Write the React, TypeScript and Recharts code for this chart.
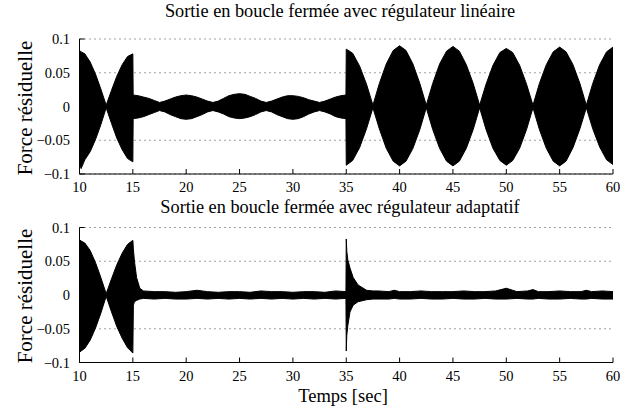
import React from "react";
import { ComposedChart, Area, XAxis, YAxis, CartesianGrid } from "recharts";

// ---------- data (envelopes) ----------
const xTicks = [10, 15, 20, 25, 30, 35, 40, 45, 50, 55, 60];
const yTicks = [-0.1, -0.05, 0, 0.05, 0.1];

const titleTop = "Sortie en boucle fermée avec régulateur linéaire";
const titleBottom = "Sortie en boucle fermée avec régulateur adaptatif";
const yLabel = "Force résiduelle";
const xLabel = "Temps [sec]";

// linear regulator
const linT = [
  10, 10.15, 10.5, 11, 11.5, 12, 12.5, 13, 13.5, 14, 14.5, 15,
  15.03, 15.5, 16, 16.5, 17, 17.5, 18, 18.5, 19, 19.5, 20, 20.5, 21, 21.5, 22, 22.5,
  23, 23.5, 24, 24.5, 25, 25.5, 26, 26.5, 27, 27.5, 28, 28.5, 29, 29.5, 30, 30.5,
  31, 31.5, 32, 32.5, 33, 33.5, 34, 34.5, 34.97,
  35, 35.6, 36.25, 36.9, 37.5, 38.1, 38.75, 39.4, 40, 40.6, 41.25, 41.9, 42.5,
  43.1, 43.75, 44.4, 45, 45.6, 46.25, 46.9, 47.5, 48.1, 48.75, 49.4, 50, 50.6,
  51.25, 51.9, 52.5, 53.1, 53.75, 54.4, 55, 55.6, 56.25, 56.9, 57.5, 58.1, 58.75,
  59.4, 60,
];
const linUp = [
  0.083, 0.081, 0.078, 0.066, 0.048, 0.026, 0.002, 0.024, 0.045, 0.062, 0.074, 0.078,
  0.017, 0.016, 0.014, 0.012, 0.009, 0.006, 0.008, 0.011, 0.014, 0.016, 0.017, 0.016, 0.014, 0.011, 0.008, 0.006,
  0.008, 0.012, 0.016, 0.018, 0.019, 0.018, 0.015, 0.012, 0.008, 0.006, 0.008, 0.011, 0.014, 0.016, 0.016, 0.015,
  0.013, 0.010, 0.008, 0.006, 0.008, 0.011, 0.014, 0.016, 0.017,
  0.085, 0.079, 0.060, 0.033, 0.002, 0.034, 0.063, 0.083, 0.090, 0.083, 0.063, 0.034, 0.002,
  0.034, 0.063, 0.082, 0.089, 0.082, 0.062, 0.034, 0.002, 0.033, 0.061, 0.080, 0.086, 0.080,
  0.061, 0.033, 0.002, 0.034, 0.062, 0.081, 0.088, 0.081, 0.062, 0.034, 0.002, 0.034, 0.062,
  0.081, 0.088,
];
const linLo = [
  -0.085, -0.092, -0.079, -0.067, -0.049, -0.027, -0.002, -0.025, -0.047, -0.064, -0.077, -0.082,
  -0.018, -0.017, -0.015, -0.012, -0.009, -0.006, -0.008, -0.012, -0.015, -0.018, -0.019, -0.018, -0.015, -0.012, -0.008, -0.006,
  -0.008, -0.011, -0.015, -0.017, -0.018, -0.017, -0.015, -0.012, -0.008, -0.006, -0.008, -0.012, -0.015, -0.018, -0.019, -0.018,
  -0.015, -0.011, -0.008, -0.006, -0.008, -0.011, -0.015, -0.017, -0.018,
  -0.087, -0.080, -0.061, -0.033, -0.002, -0.033, -0.062, -0.081, -0.088, -0.081, -0.062, -0.034, -0.002,
  -0.034, -0.062, -0.081, -0.088, -0.081, -0.062, -0.034, -0.002, -0.034, -0.062, -0.080, -0.087, -0.080,
  -0.062, -0.034, -0.002, -0.034, -0.062, -0.081, -0.088, -0.081, -0.061, -0.033, -0.002, -0.033, -0.060,
  -0.079, -0.086,
];

// adaptive regulator
const adaT = [
  10, 10.15, 10.5, 11, 11.5, 12, 12.5, 13, 13.5, 14, 14.5, 15,
  15.05, 15.15, 15.35, 15.65, 16, 17, 18, 19, 20, 21, 22, 23, 24, 25, 26, 27, 28,
  29, 30, 31, 32, 33, 34, 34.97,
  35, 35.05, 35.15, 35.35, 35.65, 36.1, 36.9, 37.5, 38, 39, 39.5, 40, 41, 42, 43,
  44, 45, 46, 47, 48, 49, 50, 51, 52, 52.5, 53, 54, 55, 56, 57, 57.5, 58, 59, 60,
];
const adaUp = [
  0.082, 0.080, 0.077, 0.066, 0.048, 0.026, 0.002, 0.024, 0.045, 0.062, 0.075, 0.081,
  0.068, 0.050, 0.026, 0.010, 0.006, 0.005, 0.005, 0.004, 0.005, 0.007, 0.005, 0.004, 0.005, 0.005, 0.004, 0.006, 0.005,
  0.005, 0.004, 0.005, 0.005, 0.004, 0.006, 0.005,
  0.083, 0.065, 0.052, 0.040, 0.026, 0.015, 0.007, 0.006, 0.006, 0.005, 0.007, 0.005, 0.005, 0.006, 0.005,
  0.005, 0.005, 0.006, 0.005, 0.005, 0.006, 0.010, 0.005, 0.006, 0.008, 0.005, 0.005, 0.006, 0.005, 0.005, 0.007, 0.005, 0.006, 0.005,
];
const adaLo = [
  -0.085, -0.083, -0.079, -0.067, -0.049, -0.027, -0.002, -0.025, -0.047, -0.064, -0.078, -0.086,
  -0.015, -0.010, -0.008, -0.006, -0.005, -0.006, -0.005, -0.006, -0.006, -0.005, -0.006, -0.005, -0.006, -0.005, -0.006, -0.005, -0.006,
  -0.005, -0.006, -0.005, -0.006, -0.005, -0.006, -0.005,
  -0.083, -0.060, -0.045, -0.025, -0.015, -0.010, -0.007, -0.006, -0.006, -0.006, -0.005, -0.006, -0.006, -0.005, -0.006,
  -0.006, -0.005, -0.006, -0.006, -0.005, -0.006, -0.006, -0.005, -0.006, -0.006, -0.005, -0.006, -0.006, -0.005, -0.006, -0.006, -0.005, -0.006, -0.006,
];

const linData = linT.map((t, i) => ({ t, r: [linLo[i], linUp[i]] }));
const adaData = adaT.map((t, i) => ({ t, r: [adaLo[i], adaUp[i]] }));

// ---------- styling ----------
const FONT = "'Liberation Serif', 'Times New Roman', serif";
const tickStyle = { fontSize: 14.5, fill: "#000", fontFamily: FONT };
const fmtY = (v: number) => (v === 0 ? "0" : (v < 0 ? "\u2212" : "") + Math.abs(v).toString());

type PanelProps = {
  data: { t: number; r: number[] }[];
  height: number;
  marginTop: number;
  xAxisHeight: number;
};

function Panel({ data, height, marginTop, xAxisHeight }: PanelProps) {
  return (
    <ComposedChart
      width={634}
      height={height}
      data={data}
      margin={{ top: marginTop, right: 21, bottom: 0, left: 0 }}
    >
      <CartesianGrid
        vertical={false}
        horizontal={true}
        stroke="#444"
        strokeDasharray="1 4"
      />
      <XAxis
        dataKey="t"
        type="number"
        domain={[10, 60]}
        ticks={xTicks}
        allowDataOverflow
        height={xAxisHeight}
        tickSize={-5}
        tickMargin={13}
        tick={tickStyle}
        axisLine={{ stroke: "#000" }}
        tickLine={{ stroke: "#000" }}
      />
      <XAxis
        xAxisId="top"
        dataKey="t"
        type="number"
        orientation="top"
        domain={[10, 60]}
        ticks={xTicks}
        height={0}
        tickSize={-5}
        tick={false}
        axisLine={{ stroke: "#000" }}
        tickLine={{ stroke: "#000" }}
      />
      <YAxis
        type="number"
        domain={[-0.1, 0.1]}
        ticks={yTicks}
        allowDataOverflow
        width={79.5}
        tickSize={-5}
        tickMargin={14.5}
        tickFormatter={fmtY}
        tick={tickStyle}
        axisLine={{ stroke: "#000" }}
        tickLine={{ stroke: "#000" }}
      />
      <YAxis
        yAxisId="right"
        type="number"
        orientation="right"
        domain={[-0.1, 0.1]}
        ticks={yTicks}
        width={0}
        tickSize={-5}
        tick={false}
        axisLine={{ stroke: "#000" }}
        tickLine={{ stroke: "#000" }}
      />
      <Area
        dataKey="r"
        type="linear"
        fill="#000"
        fillOpacity={1}
        stroke="#000"
        strokeWidth={1}
        isAnimationActive={false}
        dot={false}
        activeDot={false}
      />
    </ComposedChart>
  );
}

const textBase: React.CSSProperties = {
  position: "absolute",
  fontFamily: FONT,
  color: "#000",
  whiteSpace: "nowrap",
  lineHeight: 1,
};

function Title({ text, top }: { text: string; top: number }) {
  return (
    <div style={{ ...textBase, left: 340, top, fontSize: 18.3, transform: "translateX(-50%)" }}>{text}</div>
  );
}

function YLabel({ centerY }: { centerY: number }) {
  return (
    <div
      style={{
        ...textBase,
        left: 25,
        top: centerY,
        fontSize: 21,
        transform: "translate(-50%, -50%) rotate(-90deg)",
      }}
    >
      {yLabel}
    </div>
  );
}

export default function App() {
  return (
    <div style={{ position: "absolute", left: 0, top: 0, width: 634, height: 412, background: "#fff", overflow: "hidden" }}>
      <div style={{ position: "absolute", left: 0, top: 0 }}>
        <Panel data={linData} height={200} marginTop={39} xAxisHeight={26} />
      </div>
      <div style={{ position: "absolute", left: 0, top: 200 }}>
        <Panel data={adaData} height={212} marginTop={27.5} xAxisHeight={49.5} />
      </div>
      <Title text={titleTop} top={2} />
      <Title text={titleBottom} top={198} />
      <YLabel centerY={108} />
      <YLabel centerY={296} />
      <div style={{ ...textBase, left: 343, top: 389, fontSize: 18.5, lineHeight: 0.8, transform: "translateX(-50%)" }}>{xLabel}</div>
    </div>
  );
}
